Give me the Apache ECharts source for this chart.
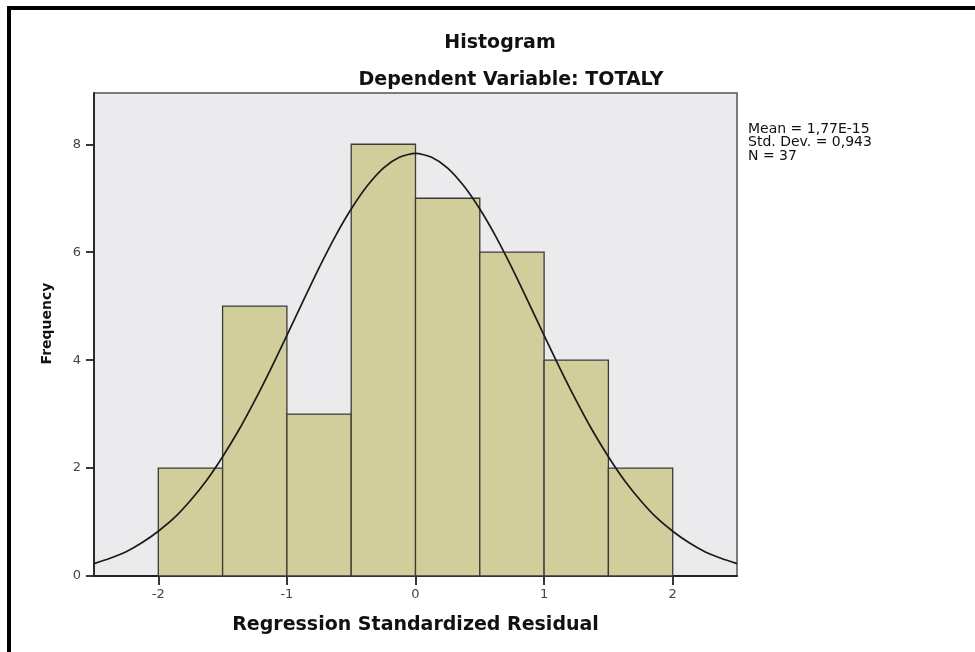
<!DOCTYPE html>
<html>
<head>
<meta charset="utf-8">
<script src="https://cdn.jsdelivr.net/npm/echarts@6/dist/echarts.min.js"></script>
<style>
html,body{margin:0;padding:0;background:#fff;}
#c{width:975px;height:652px;}
</style>
</head>
<body>
<div id="c"></div>
<script>
// ---- data ----
var titleText = 'Histogram';
var subtitleText = 'Dependent Variable: TOTALY';
var xAxisName = 'Regression Standardized Residual';
var yAxisName = 'Frequency';
var binStarts = [-2, -1.5, -1, -0.5, 0, 0.5, 1, 1.5];
var binWidth = 0.5;
var counts = [2, 5, 3, 8, 7, 6, 4, 2];
var curveX = [-2.5,-2.375,-2.25,-2.125,-2,-1.875,-1.75,-1.625,-1.5,-1.375,-1.25,-1.125,-1,-0.875,-0.75,-0.625,-0.5,-0.375,-0.25,-0.125,
              0,0.125,0.25,0.375,0.5,0.625,0.75,0.875,1,1.125,1.25,1.375,1.5,1.625,1.75,1.875,2,2.125,2.25,2.375,2.5];
var curveY = [0.23,0.33,0.45,0.62,0.83,1.08,1.40,1.77,2.21,2.70,3.25,3.84,4.46,5.09,5.71,6.29,6.80,7.23,7.56,7.76,
              7.83,7.76,7.56,7.23,6.80,6.29,5.71,5.09,4.46,3.84,3.25,2.70,2.21,1.77,1.40,1.08,0.83,0.62,0.45,0.33,0.23];
var xTicks = [-2, -1, 0, 1, 2];
var yTicks = [0, 2, 4, 6, 8];
var statsLines = ['Mean = 1,77E-15', 'Std. Dev. = 0,943', 'N = 37'];

var chart = echarts.init(document.getElementById('c'), null, {renderer: 'canvas'});

var barData = binStarts.map(function (s, i) { return [s, s + binWidth, counts[i]]; });
var lineData = curveX.map(function (x, i) { return [x, curveY[i]]; });

var option = {
  backgroundColor: '#ffffff',
  animation: false,
  title: [
    {text: titleText, left: 495, top: 29, textAlign: 'center',
     textStyle: {fontFamily: 'DejaVu Sans', fontWeight: 'bold', fontSize: 19, color: '#111'}},
    {text: subtitleText, left: 506, top: 66, textAlign: 'center',
     textStyle: {fontFamily: 'DejaVu Sans', fontWeight: 'bold', fontSize: 19, color: '#111'}}
  ],
  grid: {left: 94, right: 238, top: 93, bottom: 76, show: true,
         backgroundColor: '#ebebee', borderColor: '#555', borderWidth: 1.5},
  xAxis: {
    type: 'value', min: -2.5, max: 2.5,
    name: xAxisName, nameLocation: 'middle', nameGap: 40,
    nameTextStyle: {fontFamily: 'DejaVu Sans', fontWeight: 'bold', fontSize: 19, color: '#111'},
    axisLine: {show: true, onZero: false, lineStyle: {color: '#222', width: 1.8}},
    axisTick: {show: true, length: 9, lineStyle: {color: '#222', width: 1.8}, customValues: xTicks},
    axisLabel: {customValues: xTicks, margin: 12, fontFamily: 'DejaVu Sans', fontSize: 13, color: '#444'},
    splitLine: {show: false}
  },
  yAxis: {
    type: 'value', min: 0, max: 8.95,
    name: yAxisName, nameLocation: 'middle', nameGap: 40, nameRotate: 90,
    nameTextStyle: {fontFamily: 'DejaVu Sans', fontWeight: 'bold', fontSize: 14, color: '#111', padding: [0, 0, 0, 22]},
    axisLine: {show: true, onZero: false, lineStyle: {color: '#222', width: 1.8}},
    axisTick: {show: true, length: 8, lineStyle: {color: '#222', width: 1.8}, customValues: yTicks},
    axisLabel: {customValues: yTicks, margin: 13, fontFamily: 'DejaVu Sans', fontSize: 13, color: '#444'},
    splitLine: {show: false}
  },
  graphic: [
    {type: 'rect', shape: {x: 9, y: 8, width: 1100, height: 800}, silent: true,
     style: {fill: 'none', stroke: '#000', lineWidth: 4}, z: 100},
    {type: 'text', left: 748, top: 122, silent: true,
     style: {text: statsLines.join('\n'), font: '14px "DejaVu Sans"', lineHeight: 13.5, fill: '#111'}}
  ],
  series: [
    {
      type: 'custom',
      data: barData,
      encode: {x: [0, 1], y: 2},
      renderItem: function (params, api) {
        var p0 = api.coord([api.value(0), api.value(2)]);
        var p1 = api.coord([api.value(1), 0]);
        return {
          type: 'rect',
          shape: {x: p0[0], y: p0[1], width: p1[0] - p0[0], height: p1[1] - p0[1]},
          style: {fill: '#d2ce9b', stroke: '#3a3a3a', lineWidth: 1.3}
        };
      },
      z: 2
    },
    {
      type: 'line',
      data: lineData,
      smooth: 0.25,
      showSymbol: false,
      symbol: 'none',
      lineStyle: {color: '#1a1a1a', width: 1.7},
      z: 3
    }
  ]
};
chart.setOption(option);
</script>
</body>
</html>
